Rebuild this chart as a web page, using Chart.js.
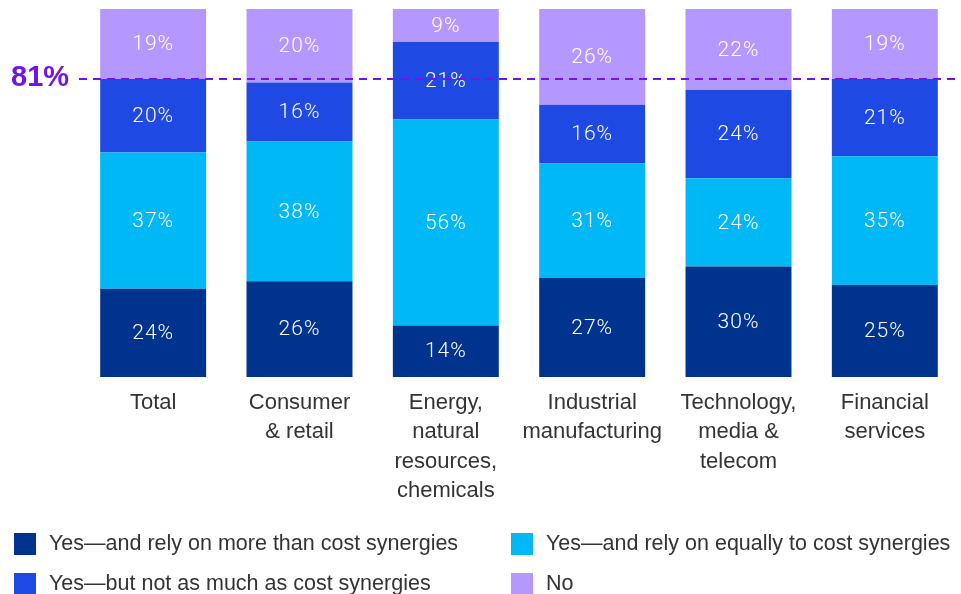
<!DOCTYPE html>
<html>
<head>
<meta charset="utf-8">
<script src="https://cdn.jsdelivr.net/npm/chart.js@4"></script>
<style>
  body { margin: 0; background: #fff; }
  #wrap { position: relative; width: 961px; height: 594px; overflow: hidden; }
  .leg { position: absolute; font-family: "Liberation Sans", Arial, sans-serif; font-size: 21.5px; color: #333; white-space: nowrap; }
  .leg span { position: absolute; left: 0; width: 22px; height: 22px; }
  .leg div { position: absolute; left: 35px; top: -2px; }
</style>
</head>
<body>
<div id="wrap">
  <canvas id="chart" width="961" height="594"></canvas>
  <div id="legend"></div>
</div>
<script>
// values (percent of respondents)
const categories = [['Total'], ['Consumer', '& retail'], ['Energy,', 'natural', 'resources,', 'chemicals'],
  ['Industrial', 'manufacturing'], ['Technology,', 'media &', 'telecom'], ['Financial', 'services']];
const moreThan = [24, 26, 14, 27, 30, 25];
const equally = [37, 38, 56, 31, 24, 35];
const notAsMuch = [20, 16, 21, 16, 24, 21];
const no = [19, 20, 9, 26, 22, 19];
const yesTotal = 81;

const seriesNames = ['Yes\u2014and rely on more than cost synergies', 'Yes\u2014and rely on equally to cost synergies',
  'Yes\u2014but not as much as cost synergies', 'No'];
const colors = ['#00338D', '#00B8F5', '#1E49E2', '#B497FF'];

// data labels in the middle of each segment
const segmentLabels = {
  id: 'segmentLabels',
  afterDatasetsDraw(chart) {
    const ctx = chart.ctx;
    ctx.save();
    ctx.fillStyle = '#fff';
    ctx.font = '300 21px Roboto, "Liberation Sans", sans-serif';
    ctx.letterSpacing = '1px';
    ctx.textAlign = 'center';
    ctx.textBaseline = 'middle';
    chart.data.datasets.forEach((ds, i) => {
      chart.getDatasetMeta(i).data.forEach((bar, j) => {
        const mid = (bar.y + bar.base) / 2;
        ctx.fillText(ds.data[j] + '%', bar.x, mid + 1);
      });
    });
    ctx.restore();
  }
};

// dashed reference line for total "yes"
const refLine = {
  id: 'refLine',
  afterDatasetsDraw(chart) {
    const ctx = chart.ctx;
    const y = chart.scales.y.getPixelForValue(yesTotal);
    ctx.save();
    ctx.strokeStyle = '#7213EA';
    ctx.lineWidth = 2;
    ctx.setLineDash([8, 6]);
    ctx.beginPath();
    ctx.moveTo(79, y);
    ctx.lineTo(chart.chartArea.right, y);
    ctx.stroke();
    ctx.setLineDash([]);
    ctx.fillStyle = '#7213EA';
    ctx.font = 'bold 29px "Liberation Sans", Arial, sans-serif';
    ctx.textAlign = 'left';
    ctx.textBaseline = 'middle';
    ctx.fillText(yesTotal + '%', 11, y - 1);
    ctx.restore();
  }
};

const order = [moreThan, equally, notAsMuch, no];
new Chart(document.getElementById('chart'), {
  type: 'bar',
  data: {
    labels: categories,
    datasets: order.map((d, i) => ({
      label: seriesNames[i],
      data: d,
      backgroundColor: colors[i],
      borderWidth: 0,
      barPercentage: 0.724,
      categoryPercentage: 1
    }))
  },
  options: {
    responsive: false,
    animation: false,
    layout: { padding: { top: 9, left: 80, right: 3, bottom: 0 } },
    plugins: { legend: { display: false }, tooltip: { enabled: false } },
    scales: {
      x: {
        stacked: true,
        grid: { display: false, drawTicks: false },
        border: { display: false },
        ticks: {
          color: '#333',
          padding: 11,
          maxRotation: 0,
          autoSkip: false,
          font: { family: '"Liberation Sans", Arial, sans-serif', size: 22, lineHeight: 1.34 }
        },
        afterFit(scale) { scale.height = 217; }
      },
      y: {
        stacked: true,
        display: false,
        min: 0,
        max: 100
      }
    }
  },
  plugins: [segmentLabels, refLine]
});

// legend laid out in two columns like the original
const legendPos = [[14, 533], [511, 533], [14, 573], [511, 573]];
const legend = document.getElementById('legend');
seriesNames.forEach((name, i) => {
  const el = document.createElement('div');
  el.className = 'leg';
  el.style.left = legendPos[i][0] + 'px';
  el.style.top = legendPos[i][1] + 'px';
  el.innerHTML = '<span style="background:' + colors[i] + '"></span><div>' + name + '</div>';
  legend.appendChild(el);
});
</script>
</body>
</html>
